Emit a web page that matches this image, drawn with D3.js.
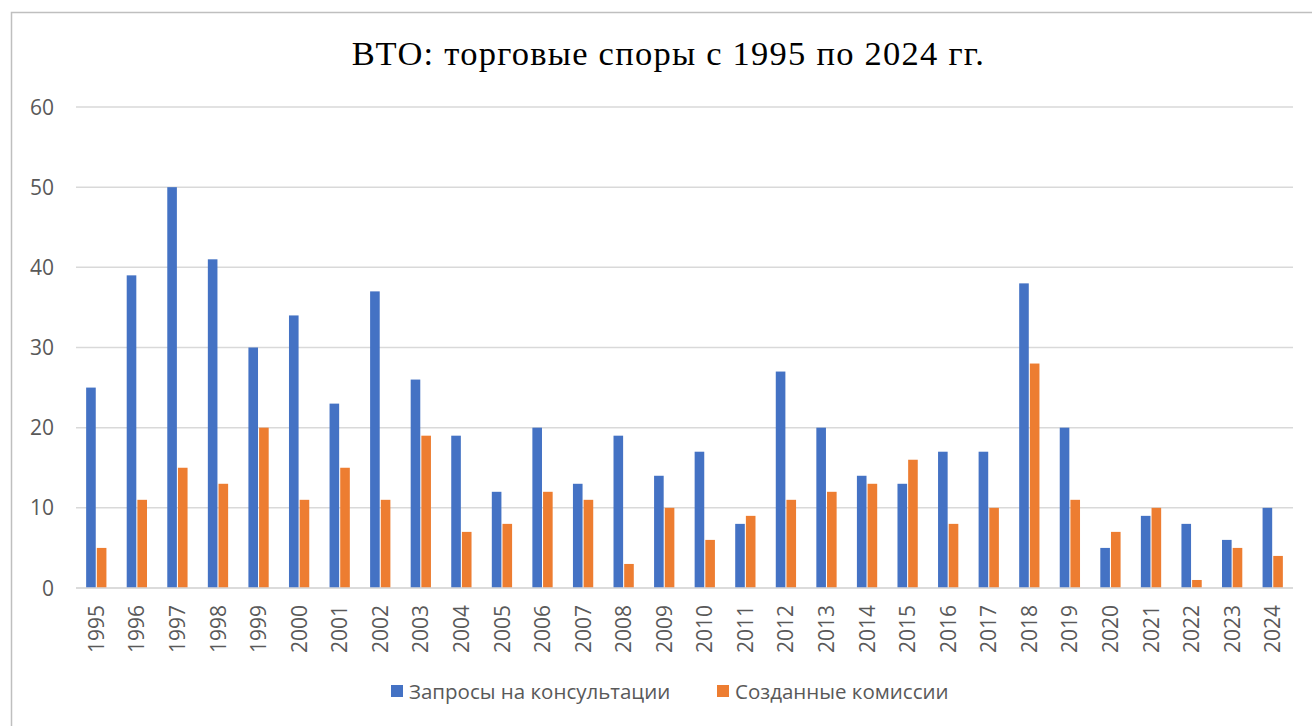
<!DOCTYPE html>
<html><head><meta charset="utf-8">
<script src="https://cdn.jsdelivr.net/npm/d3@7"></script>
<style>body{margin:0;background:#fff;}svg{display:block;}</style>
</head><body><svg id="c" width="1312" height="726"></svg>
<script>
const years = ["1995","1996","1997","1998","1999","2000","2001","2002","2003","2004","2005","2006","2007","2008","2009","2010","2011","2012","2013","2014","2015","2016","2017","2018","2019","2020","2021","2022","2023","2024"];
const requests = [25,39,50,41,30,34,23,37,26,19,12,20,13,19,14,17,8,27,20,14,13,17,17,38,20,5,9,8,6,10];
const panels = [5,11,15,13,20,11,15,11,19,7,8,12,11,3,10,6,9,11,12,13,16,8,10,28,11,7,10,1,5,4];
const seriesNames = ["Запросы на консультации","Созданные комиссии"];
const yTicks = [0,10,20,30,40,50,60];
const title = "ВТО: торговые споры с 1995 по 2024 гг.";

(function(){
const colors = ["#4472C4","#ED7D31"];
const svg = d3.select("#c");
const font = "'Open Sans','Noto Sans','DejaVu Sans',sans-serif";

svg.append("rect").attr("x",11.5).attr("y",12.5).attr("width",1320).attr("height",740)
  .attr("fill","#fff").attr("stroke","#bfbfbf").attr("stroke-width",1.5);

const pl=76, pr=1293, pt=107, pb=588;
const x = d3.scaleBand().domain(years).range([pl,pr]).paddingInner(0.5).paddingOuter(0.25);
const x1 = d3.scaleBand().domain([0,1]).range([0,x.bandwidth()]).paddingInner(0.1);
const y = d3.scaleLinear().domain([0,60]).range([pb,pt]);

svg.append("g").selectAll("line").data(yTicks).join("line")
  .attr("x1",pl).attr("x2",pr).attr("y1",d=>y(d)).attr("y2",d=>y(d))
  .attr("stroke","#d9d9d9").attr("stroke-width",1.5);

svg.append("g").selectAll("text").data(yTicks).join("text")
  .attr("x",54).attr("y",d=>y(d)).attr("dy","0.36em").attr("text-anchor","end")
  .attr("font-family",font).attr("font-size",21).attr("fill","#595959").text(d=>d);

const data = years.map((yr,i)=>({yr, v:[requests[i],panels[i]]}));
const g = svg.append("g");
data.forEach(d=>{
  d.v.forEach((val,k)=>{
    g.append("rect").attr("x",x(d.yr)+x1(k)).attr("width",x1.bandwidth())
      .attr("y",y(val)).attr("height",y(0)-y(val)).attr("fill",colors[k]);
  });
});

svg.append("line").attr("x1",pl).attr("x2",pr).attr("y1",pb).attr("y2",pb)
  .attr("stroke","#d9d9d9").attr("stroke-width",1.5);

svg.append("g").selectAll("text").data(years).join("text")
  .attr("transform",d=>`translate(${x(d)+x.bandwidth()/2},605) rotate(-90)`)
  .attr("text-anchor","end").attr("dy","0.36em")
  .attr("font-family",font).attr("font-size",21).attr("fill","#595959").text(d=>d);

svg.append("text").attr("x",668.5).attr("y",65).attr("text-anchor","middle")
  .attr("font-family","'Liberation Serif','DejaVu Serif',serif").attr("font-size",34.5)
  .attr("letter-spacing",1.25)
  .attr("fill","#000").text(title);

const legX=[391,717];
seriesNames.forEach((n,k)=>{
  svg.append("rect").attr("x",legX[k]).attr("y",685).attr("width",12).attr("height",12).attr("fill",colors[k]);
  svg.append("text").attr("x",legX[k]+18).attr("y",692).attr("dy","0.36em")
    .attr("font-family",font).attr("font-size",20.5).attr("fill","#595959").text(n);
});
})();
</script></body></html>
